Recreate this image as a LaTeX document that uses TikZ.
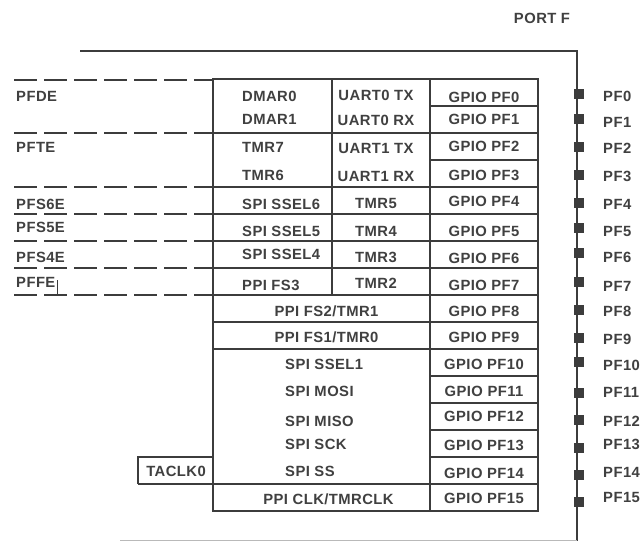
\documentclass[tikz,border=0pt]{standalone}
\usepackage{fontspec}
\setmainfont{Liberation Sans}[LetterSpace=3]
\definecolor{linec}{HTML}{3C3C3C}
\definecolor{textc}{HTML}{404040}
\begin{document}
\begin{tikzpicture}[x=1pt,y=-1pt,
  lbl/.style={inner sep=0pt, text height=10.6pt, text depth=0pt, text=textc, font=\fontsize{14.8}{16}\selectfont\bfseries},
  frame/.style={draw=linec, line width=1.4pt},
  dsh/.style={draw=linec, line width=1.5pt, dash pattern=on 23pt off 7pt},
  pinbox/.style={fill=linec, draw=none, minimum width=10pt, minimum height=10pt, inner sep=0pt}]
\useasboundingbox[fill=white] (0,0) rectangle (640,541);
% outer frame
\draw[frame] (80,51) -- (577,51) -- (577,541);
\draw[draw=gray!55, line width=1pt] (120,540) -- (577,540);
% table
\draw[frame] (213,79) rectangle (538,511);
\draw[frame] (430,79) -- (430,511);
\draw[frame] (332,79) -- (332,295);
\foreach \y in {106,133,160,187,214,241,268,295,322,349,376,403,430,457,484}
  \draw[frame] (430,\y) -- (538,\y);
\foreach \y in {133,187,214,241,268,295,322,349}
  \draw[frame] (213,\y) -- (430,\y);
\draw[frame] (138,484) -- (430,484);
\draw[frame] (213,457) -- (138,457) -- (138,484);
% dashed enable lines
\foreach \y in {80,133,187,214,241,268,295}
  \draw[dsh] (14,\y) -- (212,\y);
\draw[draw=linec, line width=1pt] (57,280) -- (57,295);
% left labels
\node[lbl, anchor=west] (pfde) at (16,96.5) {PFDE};
\node[lbl, anchor=west] (pfte) at (16,147.5) {PFTE};
\node[lbl, anchor=west] (pfs6e) at (16,204) {PFS6E};
\node[lbl, anchor=west] (pfs5e) at (16,227.5) {PFS5E};
\node[lbl, anchor=west] (pfs4e) at (16,257.5) {PFS4E};
\node[lbl, anchor=west] (pffe) at (16,282.5) {PFFE};
% left column
\node[lbl, anchor=west] (dmar0) at (242,96) {DMAR0};
\node[lbl, anchor=west] (dmar1) at (242,119.5) {DMAR1};
\node[lbl, anchor=west] (tmr7) at (242,147.5) {TMR7};
\node[lbl, anchor=west] (tmr6) at (242,175) {TMR6};
\node[lbl, anchor=west] (ssel6) at (242,204) {SPI SSEL6};
\node[lbl, anchor=west] (ssel5) at (242,231) {SPI SSEL5};
\node[lbl, anchor=west] (ssel4) at (242,254) {SPI SSEL4};
\node[lbl, anchor=west] (fs3) at (242,285) {PPI FS3};
% middle column
\node[lbl] (u0tx) at (376,95) {UART0 TX};
\node[lbl] (u0rx) at (376,120) {UART0 RX};
\node[lbl] (u1tx) at (376,148) {UART1 TX};
\node[lbl] (u1rx) at (376,176) {UART1 RX};
\node[lbl] (tmr5) at (376,203.5) {TMR5};
\node[lbl] (tmr4) at (376,231) {TMR4};
\node[lbl] (tmr3) at (376,257.5) {TMR3};
\node[lbl] (tmr2) at (376,283) {TMR2};
% merged rows
\node[lbl] (fs2) at (326.5,311) {PPI FS2/TMR1};
\node[lbl] (fs1) at (326.5,337.5) {PPI FS1/TMR0};
\node[lbl, anchor=west] (ssel1) at (285,364) {SPI SSEL1};
\node[lbl, anchor=west] (mosi) at (285,391) {SPI MOSI};
\node[lbl, anchor=west] (miso) at (285,421) {SPI MISO};
\node[lbl, anchor=west] (sck) at (285,444) {SPI SCK};
\node[lbl, anchor=west] (ss) at (285,471) {SPI SS};
\node[lbl] (ppiclk) at (328.5,499) {PPI CLK/TMRCLK};
\node[lbl] (taclk) at (176,471) {TACLK0};
% GPIO column
\foreach \i/\y in {0/97,1/119.5,2/146.5,3/175,4/201.5,5/231,6/258.5,7/285,8/311,9/337.5,10/364,11/391.5,12/416.5,13/445,14/473,15/498.5}
  \node[lbl] (gpio\i) at (484,\y) {GPIO PF\i};
% pins
\foreach \i/\ys/\yl in {0/94/96.5,1/119/122,2/147/148.5,3/175/176,4/202.5/204,5/228/231,6/253/257.5,7/282/286,8/309.5/311,9/338/339,10/362/365,11/392.5/392.5,12/420/421,13/447.5/444,14/475/472.5,15/502/497.5}{
  \node[pinbox] (pin\i) at (578.5,\ys) {};
  \node[lbl, anchor=west] (pfl\i) at (603,\yl) {PF\i};
}
\node[lbl] (portf) at (542,18) {PORT F};
\end{tikzpicture}
\end{document}
